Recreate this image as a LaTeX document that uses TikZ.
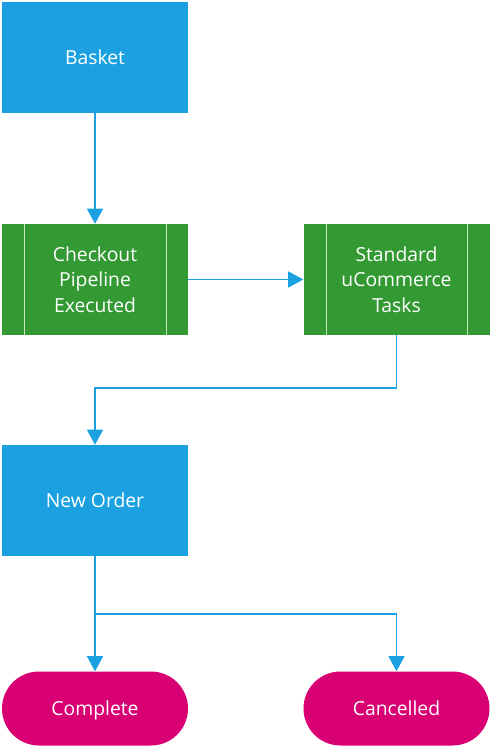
\documentclass[tikz,border=0pt]{standalone}
\usepackage{fontspec}
\setmainfont{Open Sans}
\usetikzlibrary{arrows.meta,positioning,calc}
\definecolor{mblue}{HTML}{1BA1E2}
\definecolor{mgreen}{HTML}{339933}
\definecolor{mmag}{HTML}{D80073}
\definecolor{sidel}{HTML}{C8E6C0}
\tikzset{
  px/.style={x=0.75pt,y=-0.75pt},
  base/.style={minimum width=186*0.75pt, text=white, font=\fontsize{14.5}{19}\selectfont, align=center, inner sep=0pt, draw=none},
  oneline/.style={text height=11pt, text depth=0pt},
  procbox/.style={base, fill=mblue, minimum height=111*0.75pt},
  predbox/.style={base, fill=mgreen, minimum height=111*0.75pt},
  termbox/.style={base, oneline, fill=mmag, minimum height=74*0.75pt, rounded corners=37*0.75pt},
  conn/.style={draw=mblue, line width=0.9pt, -{Triangle[width=16*0.75pt,length=15*0.75pt]}},
  seg/.style={draw=mblue, line width=0.9pt},
  sidel/.style={draw=sidel, line width=0.75pt}
}
\begin{document}
\begin{tikzpicture}[px]
\useasboundingbox (0,0) rectangle (492,748);
\node[procbox, oneline] (basket) at (95,57.5) {Basket};
\node[predbox] (checkout) at (95,279.5) {Checkout\\Pipeline\\Executed};
\node[predbox] (standard) at (396.5,279.5) {Standard\\uCommerce\\Tasks};
\node[procbox, oneline] (neworder) at (95,500.5) {New Order};
\node[termbox] (complete) at (95,708.5) {Complete};
\node[termbox] (cancelled) at (396.5,708.5) {Cancelled};
% side lines of predefined process boxes
\draw[sidel] ($(checkout.north west)+(23,0)$) -- ($(checkout.south west)+(23,0)$);
\draw[sidel] ($(checkout.north east)+(-22,0)$) -- ($(checkout.south east)+(-22,0)$);
\draw[sidel] ($(standard.north west)+(23,0)$) -- ($(standard.south west)+(23,0)$);
\draw[sidel] ($(standard.north east)+(-22,0)$) -- ($(standard.south east)+(-22,0)$);
% connectors
\coordinate (j1) at (396.5,388);
\coordinate (j2) at (95,388);
\coordinate (j3) at (95,614);
\coordinate (j4) at (396.5,614);
\draw[conn] (basket.south) -- (checkout.north);
\draw[conn] (checkout.east) -- (standard.west);
\draw[conn] (standard.south) -- (j1) -- (j2) -- (neworder.north);
\draw[seg] (neworder.south) -- (j3);
\draw[conn] (j3) -- (complete.north);
\draw[conn] (j3) -- (j4) -- (cancelled.north);
\end{tikzpicture}
\end{document}
